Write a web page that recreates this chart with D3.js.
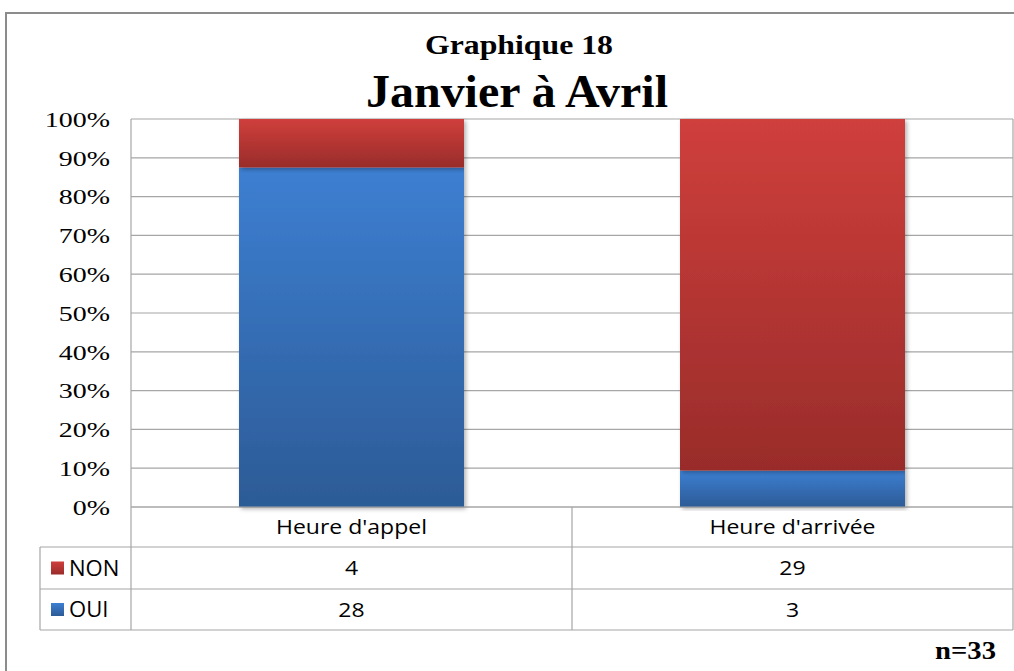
<!DOCTYPE html>
<html><head><meta charset="utf-8">
<script src="https://cdn.jsdelivr.net/npm/d3@7"></script>
<style>body{margin:0;background:#fff}svg{display:block}</style>
</head><body>
<svg id="c" width="1014" height="671"></svg>
<script>
const categories = ["Heure d'appel", "Heure d'arrivée"];
const seriesNames = ["OUI", "NON"];
const oui = [28, 3];
const non = [4, 29];
const yTicks = [0, 0.1, 0.2, 0.3, 0.4, 0.5, 0.6, 0.7, 0.8, 0.9, 1.0];
const titleLine1 = "Graphique 18";
const titleLine2 = "Janvier à Avril";
const note = "n=33";

const svg = d3.select("#c");
const W = 1014, H = 671;
const pLeft = 131, pRight = 1013, pTop = 119, pBottom = 507;
const tableLeft = 40;
const rowLines = [507, 547, 589, 630];

const defs = svg.append("defs");
function grad(id, c1, c2) {
  const g = defs.append("linearGradient").attr("id", id).attr("x1", 0).attr("y1", 0).attr("x2", 0).attr("y2", 1);
  g.append("stop").attr("offset", "0%").attr("stop-color", c1);
  g.append("stop").attr("offset", "100%").attr("stop-color", c2);
}
grad("gOUI", "#3d7fd2", "#2c5b96");
grad("gNON", "#cf3f3c", "#992c2a");
const f = defs.append("filter").attr("id", "sh").attr("x", "-5%").attr("y", "-5%").attr("width", "115%").attr("height", "115%");
f.append("feDropShadow").attr("dx", 2).attr("dy", 2).attr("stdDeviation", 2).attr("flood-color", "#000").attr("flood-opacity", 0.3);

// outer frame
svg.append("path").attr("d", `M6,${H} L6,13 L${W},13`).attr("fill", "none").attr("stroke", "#8c8c8c").attr("stroke-width", 2);

// titles
svg.append("text").attr("x", 519).attr("y", 54).attr("text-anchor", "middle")
  .style("font-family", "Liberation Serif").style("font-weight", "bold").style("font-size", "28px")
  .attr("textLength", 188).attr("lengthAdjust", "spacingAndGlyphs").text(titleLine1);
svg.append("text").attr("x", 517).attr("y", 107).attr("text-anchor", "middle")
  .style("font-family", "Liberation Serif").style("font-weight", "bold").style("font-size", "46px")
  .attr("textLength", 302).attr("lengthAdjust", "spacingAndGlyphs").text(titleLine2);

const x = d3.scaleBand().domain(categories).range([pLeft, pRight]).paddingInner(0).paddingOuter(0);
const y = d3.scaleLinear().domain([0, 1]).range([pBottom, pTop]);

// gridlines
const gridColor = "#a6a6a6";
svg.append("g").selectAll("line").data(yTicks).join("line")
  .attr("x1", pLeft).attr("x2", pRight).attr("y1", d => y(d)).attr("y2", d => y(d))
  .attr("stroke", gridColor).attr("stroke-width", 1.2);

// y axis labels
const yAxis = d3.axisLeft(y).tickValues(yTicks).tickFormat(d3.format(".0%")).tickSize(0).tickPadding(0);
const ya = svg.append("g").attr("transform", `translate(${pLeft - 21},0)`).call(yAxis);
ya.select(".domain").remove();
ya.selectAll("text").style("font-family", "Liberation Serif").style("font-size", "22px").attr("fill", "#000")
  .attr("dy", "0.33em").attr("x", 0).attr("transform", "scale(1.27,1)");
ya.selectAll(".tick").each(function () {
  const t = d3.select(this).select("text");
});

// stacked data
const rows = categories.map((c, i) => ({cat: c, OUI: oui[i] / (oui[i] + non[i]), NON: non[i] / (oui[i] + non[i])}));
const stack = d3.stack().keys(seriesNames)(rows);
const barW = 225;
const bars = svg.append("g");
stack.forEach(s => {
  bars.selectAll(null).data(s).join("rect")
    .attr("x", d => x(d.data.cat) + x.bandwidth() / 2 - barW / 2)
    .attr("width", barW)
    .attr("y", d => y(d[1]))
    .attr("height", d => y(d[0]) - y(d[1]))
    .attr("fill", `url(#g${s.key})`)
    .attr("filter", "url(#sh)");
});

// table lines
const tl = svg.append("g").attr("stroke", gridColor).attr("stroke-width", 1.2);
tl.append("line").attr("x1", pLeft).attr("x2", pRight).attr("y1", rowLines[0]).attr("y2", rowLines[0]);
for (let k = 1; k < rowLines.length; k++) {
  tl.append("line").attr("x1", tableLeft).attr("x2", pRight).attr("y1", rowLines[k]).attr("y2", rowLines[k]);
}
tl.append("line").attr("x1", pLeft).attr("x2", pLeft).attr("y1", pTop).attr("y2", rowLines[3]);
tl.append("line").attr("x1", tableLeft).attr("x2", tableLeft).attr("y1", rowLines[1]).attr("y2", rowLines[3]);
tl.append("line").attr("x1", x(categories[1])).attr("x2", x(categories[1])).attr("y1", rowLines[0]).attr("y2", rowLines[3]);
tl.append("line").attr("x1", pRight).attr("x2", pRight).attr("y1", pTop).attr("y2", rowLines[3]);

const tFont = "Open Sans";
const tSize = "20px";
const sx = 1.15;
function scaled(sel, ax) {
  sel.attr("transform", `translate(${ax},0) scale(${sx},1) translate(${-ax},0)`);
}
// header row
svg.append("g").selectAll("text").data(categories).join("text")
  .attr("x", d => x(d) + x.bandwidth() / 2).attr("y", (rowLines[0] + rowLines[1]) / 2).attr("dy", "0.36em")
  .attr("text-anchor", "middle").style("font-family", tFont).style("font-size", tSize).attr("fill", "#000")
  .each(function (d) { scaled(d3.select(this), x(d) + x.bandwidth() / 2); })
  .text(d => d);

const tableRows = [{name: "NON", vals: non}, {name: "OUI", vals: oui}];
tableRows.forEach((r, k) => {
  const cy = (rowLines[k + 1] + rowLines[k + 2]) / 2;
  svg.append("rect").attr("x", 51).attr("y", cy - 6.5).attr("width", 13).attr("height", 13).attr("fill", `url(#g${r.name})`);
  const lt = svg.append("text").attr("x", 69).attr("y", cy).attr("dy", "0.36em")
    .style("font-family", tFont).style("font-size", "21px").attr("fill", "#000").text(r.name);
  lt.attr("transform", `translate(69,0) scale(1.05,1) translate(-69,0)`);
  svg.append("g").selectAll("text").data(r.vals).join("text")
    .attr("x", (d, i) => x(categories[i]) + x.bandwidth() / 2).attr("y", cy).attr("dy", "0.36em")
    .attr("text-anchor", "middle").style("font-family", tFont).style("font-size", tSize).attr("fill", "#000")
    .each(function (d, i) { scaled(d3.select(this), x(categories[i]) + x.bandwidth() / 2); })
    .text(d => d);
});

// note
svg.append("text").attr("x", 996).attr("y", 659).attr("text-anchor", "end")
  .style("font-family", "Liberation Serif").style("font-weight", "bold").style("font-size", "25px")
  .attr("textLength", 61).attr("lengthAdjust", "spacingAndGlyphs").text(note);
</script>
</body></html>
